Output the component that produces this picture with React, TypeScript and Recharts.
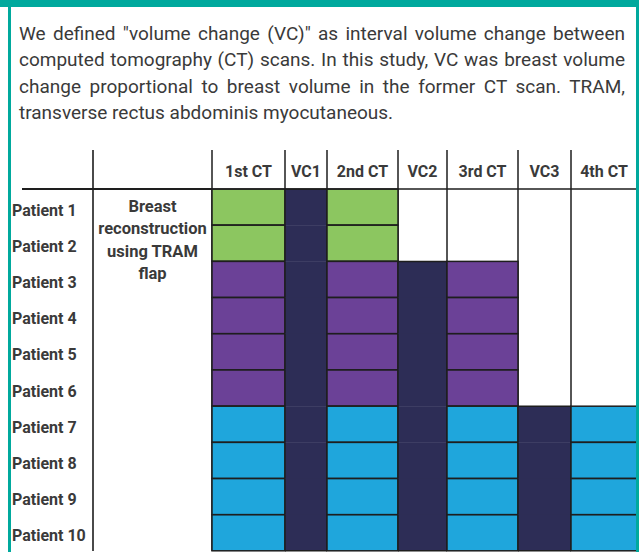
import React from 'react';
import { BarChart, Bar, XAxis, YAxis, CartesianGrid } from 'recharts';

// ---------- data ----------
const patients = [
  'Patient 1', 'Patient 2', 'Patient 3', 'Patient 4', 'Patient 5',
  'Patient 6', 'Patient 7', 'Patient 8', 'Patient 9', 'Patient 10',
];
const scanLabels = ['1st CT', 'VC1', '2nd CT', 'VC2', '3rd CT', 'VC3', '4th CT'];
// number of CT scans each patient underwent
const ctScansPerPatient = [2, 2, 3, 3, 3, 3, 4, 4, 4, 4];
const groupLabel = ['Breast', 'reconstruction', 'using TRAM', 'flap'];
const captionLines = [
  'We defined "volume change (VC)" as interval volume change between',
  'computed tomography (CT) scans. In this study, VC was breast volume',
  'change proportional to breast volume in the former CT scan. TRAM,',
  'transverse rectus abdominis myocutaneous.',
];

// ---------- layout / style ----------
const COL_W = [73, 42, 71, 49, 71, 53, 66];
const BOUNDS = COL_W.reduce<number[]>((acc, w) => [...acc, acc[acc.length - 1] + w], [0]);
const TOTAL = BOUNDS[BOUNDS.length - 1];
const PLOT_W = 425;
const GROUP_COLORS: Record<number, string> = { 2: '#8cc660', 3: '#6b4197', 4: '#1fa6dc' };
const VC_COLOR = '#2d2d56';
const LINE = '#1e1e1e';
const TEAL = '#00a99d';
const TEXT = '#3a3a3a';
const FONT = 'Roboto, "Liberation Sans Narrow", sans-serif';

const tableData = patients.map((p, idx) => {
  const row: Record<string, any> = { patient: p, idx };
  COL_W.forEach((w, c) => {
    row['c' + c] = w;
  });
  return row;
});

const vcExists = (row: number, j: number) =>
  row >= 0 && row < ctScansPerPatient.length && ctScansPerPatient[row] >= j + 1;

const CellShape = (props: any) => {
  const { x, y, width, height, payload, col } = props;
  const row = payload.idx;
  const n = ctScansPerPatient[row];
  if (col % 2 === 0) {
    const k = col / 2;
    if (k >= n) return <g />;
    return (
      <rect x={x} y={y} width={width} height={height} fill={GROUP_COLORS[n]} stroke={LINE} strokeWidth={1.5} />
    );
  }
  const j = (col + 1) / 2;
  if (!vcExists(row, j)) return <g />;
  const prevHas = vcExists(row - 1, j);
  const nextHas = vcExists(row + 1, j);
  return (
    <g>
      <rect x={x} y={y} width={width} height={height + (nextHas ? 0.6 : 0)} fill={VC_COLOR} />
      <line x1={x} x2={x} y1={y} y2={y + height} stroke={LINE} strokeWidth={1.5} />
      <line x1={x + width} x2={x + width} y1={y} y2={y + height} stroke={LINE} strokeWidth={1.5} />
      {!prevHas && <line x1={x} x2={x + width} y1={y} y2={y} stroke={LINE} strokeWidth={1.5} />}
      {!nextHas && <line x1={x} x2={x + width} y1={y + height} y2={y + height} stroke={LINE} strokeWidth={1.5} />}
    </g>
  );
};

const HeaderTick = (props: any) => {
  const { x, y, payload } = props;
  const i = BOUNDS.indexOf(payload.value);
  if (i < 0 || i >= scanLabels.length) return null;
  const cx = x + (COL_W[i] * PLOT_W) / TOTAL / 2;
  return (
    <text x={cx} y={y + 21} textAnchor="middle" dominantBaseline="central"
      fontFamily={FONT} fontWeight={700} fontSize={16} fill={TEXT}>
      {scanLabels[i]}
    </text>
  );
};

const PatientTick = (props: any) => {
  const { y, payload } = props;
  return (
    <text x={12} y={y + 3} textAnchor="start" dominantBaseline="central"
      fontFamily={FONT} fontWeight={700} fontSize={16} fill={TEXT}>
      {payload.value}
    </text>
  );
};

export default function App() {
  return (
    <div style={{ position: 'absolute', left: 0, top: 0, width: 641, height: 552, background: '#fff', overflow: 'hidden', fontFamily: FONT }}>
      <div style={{ position: 'absolute', left: 19, top: 21, width: 606, color: TEXT, fontSize: 19, lineHeight: '26.3px', whiteSpace: 'nowrap' }}>
        {captionLines.map((l, i) => (
          <div
            key={i}
            style={{
              textAlign: 'justify',
              textAlignLast: i < captionLines.length - 1 ? 'justify' : 'left',
              whiteSpace: 'normal',
            }}
          >
            {l}
          </div>
        ))}
      </div>
      <div style={{ position: 'absolute', left: 0, top: 0 }}>
        <BarChart
          width={641}
          height={552}
          data={tableData}
          layout="vertical"
          margin={{ top: 150, right: 4, bottom: 1, left: 12 }}
          barCategoryGap={0}
          barGap={0}
        >
          <CartesianGrid horizontal={false} vertical stroke={LINE} strokeWidth={1.5} />
          <XAxis
            type="number"
            orientation="top"
            domain={[0, TOTAL]}
            ticks={BOUNDS.slice(0, -1)}
            interval={0}
            height={39}
            tickSize={39}
            tickMargin={0}
            tickLine={{ stroke: LINE, strokeWidth: 1.5 }}
            axisLine={{ stroke: LINE, strokeWidth: 1.5 }}
            tick={<HeaderTick />}
          />
          <YAxis
            type="category"
            dataKey="patient"
            width={200}
            axisLine={false}
            tickLine={false}
            interval={0}
            tick={<PatientTick />}
          />
          {scanLabels.map((_, c) => (
            <Bar
              key={c}
              dataKey={'c' + c}
              stackId="scan"
              isAnimationActive={false}
              shape={(p: any) => <CellShape {...p} col={c} />}
            />
          ))}
        </BarChart>
      </div>
      {/* left description column */}
      <div style={{ position: 'absolute', left: 92, top: 150, width: 2, height: 401, background: '#4a4a4a' }} />
      <div style={{ position: 'absolute', left: 22, top: 188.25, width: 190, height: 1.5, background: LINE }} />
      <div style={{ position: 'absolute', left: 93, top: 196, width: 119, textAlign: 'center', color: TEXT, fontWeight: 700, fontSize: 16.5, lineHeight: '22.3px' }}>
        {groupLabel.map((l, i) => (
          <div key={i}>{l}</div>
        ))}
      </div>
      {/* teal frame */}
      <div style={{ position: 'absolute', left: 0, top: 0, width: 639, height: 7, background: TEAL }} />
      <div style={{ position: 'absolute', left: 8, top: 7, width: 3, height: 545, background: TEAL }} />
      <div style={{ position: 'absolute', left: 636, top: 7, width: 3, height: 545, background: TEAL }} />
    </div>
  );
}
